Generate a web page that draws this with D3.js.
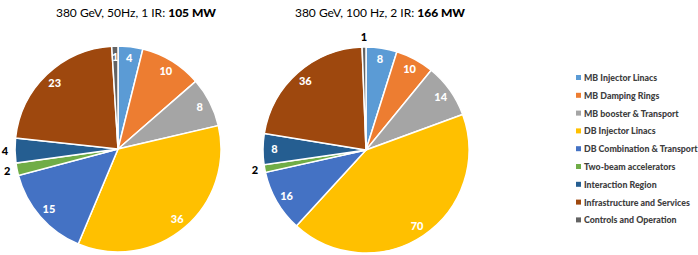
<!DOCTYPE html>
<html>
<head>
<title>Power breakdown</title>
<style>
  body { margin: 0; background: #fff; }
  svg { font-family: Lato, "Open Sans", sans-serif; }
</style>
</head>
<body>
<div id="chart"></div>
<script src="https://d3js.org/d3.v7.min.js"></script>
<script>

// categories (clockwise from 12 o'clock)
var categories = ["MB Injector Linacs", "MB Damping Rings", "MB booster & Transport",
  "DB Injector Linacs", "DB Combination & Transport", "Two-beam accelerators",
  "Interaction Region", "Infrastructure and Services", "Controls and Operation"];

// 380 GeV, 50 Hz, 1 IR
var values50 = [4, 10, 8, 36, 15, 2, 4, 23, 1];
// 380 GeV, 100 Hz, 2 IR
var values100 = [8, 10, 14, 70, 16, 2, 8, 36, 1];

var titles = [
  {pre: "380 GeV, 50Hz, 1 IR: ", bold: "105 MW"},
  {pre: "380 GeV, 100 Hz, 2 IR: ", bold: "166 MW"}
];

var colors = ["#5b9bd5", "#ed7d31", "#a5a5a5", "#ffc000", "#4472c4",
  "#70ad47", "#255e91", "#9e480e", "#636363"];

// which labels sit outside the pie
var outside50 = [false, false, false, false, false, true, true, false, false];
var outside100 = [false, false, false, false, false, true, false, false, true];

var width = 698, height = 255;
var svg = d3.select("#chart").append("svg")
  .attr("width", width).attr("height", height);

var color = d3.scaleOrdinal().domain(categories).range(colors);
var pie = d3.pie().sort(null).value(function(d) { return d.v; });

function drawPie(vals, outs, cx, cy, r, title, tx) {
  var data = vals.map(function(v, i) { return {v: v, c: categories[i], out: outs[i]}; });
  var g = svg.append("g").attr("transform", "translate(" + cx + "," + cy + ")");
  var arc = d3.arc().innerRadius(0).outerRadius(r);
  var arcsIn = d3.arc().innerRadius(r * 0.89).outerRadius(r * 0.89);
  var arcsOut = d3.arc().innerRadius(r + 10).outerRadius(r + 10);

  var slices = pie(data);
  g.selectAll("path").data(slices).enter().append("path")
    .attr("d", arc)
    .attr("fill", function(d) { return color(d.data.c); })
    .attr("stroke", "#fff")
    .attr("stroke-width", 1.5);

  g.selectAll("text.lbl").data(slices).enter().append("text")
    .attr("class", "lbl")
    .attr("transform", function(d) {
      var p = d.data.out ? arcsOut.centroid(d) : arcsIn.centroid(d);
      return "translate(" + p[0] + "," + p[1] + ")";
    })
    .attr("text-anchor", "middle")
    .attr("dy", "0.35em")
    .attr("font-size", 11)
    .attr("font-weight", 900)
    .attr("fill", function(d) { return d.data.out ? "#000" : "#fff"; })
    .text(function(d) { return d.data.v; });

  var t = svg.append("text")
    .attr("x", tx).attr("y", 17)
    .attr("text-anchor", "middle")
    .attr("font-size", 12)
    .attr("fill", "#000");
  t.append("tspan").text(title.pre);
  t.append("tspan").attr("font-weight", 900).text(title.bold);
}

drawPie(values50, outside50, 118, 149, 103, titles[0], 136);
drawPie(values100, outside100, 366, 150, 103, titles[1], 380);

// legend
var legend = svg.append("g").attr("transform", "translate(576,78)");
var rows = legend.selectAll("g").data(categories).enter().append("g")
  .attr("transform", function(d, i) { return "translate(0," + (i * 17.8) + ")"; });
rows.append("rect")
  .attr("x", 0).attr("y", -3).attr("width", 5).attr("height", 5)
  .attr("fill", function(d) { return color(d); });
rows.append("text")
  .attr("x", 8).attr("dy", "0.35em")
  .attr("font-size", 8.8)
  .attr("font-weight", 900)
  .attr("fill", "#404040")
  .text(function(d) { return d; });

</script>
</body>
</html>
